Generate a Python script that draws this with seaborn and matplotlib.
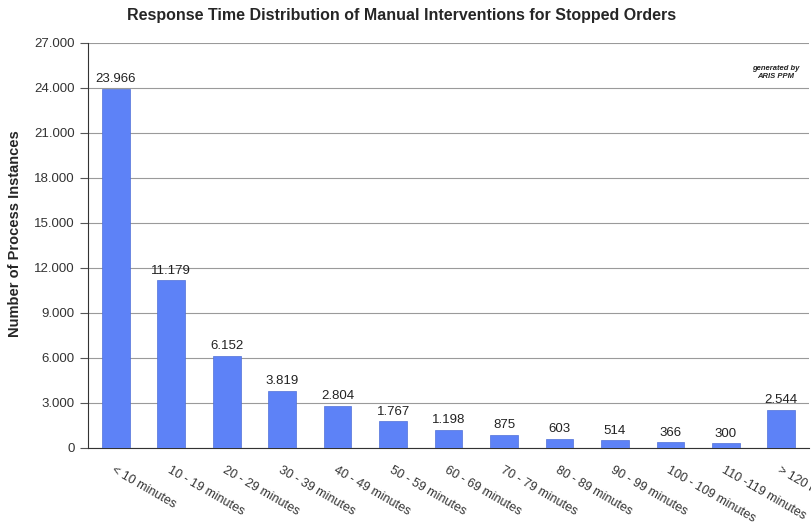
import matplotlib
matplotlib.use("Agg")
import matplotlib.pyplot as plt
import pandas as pd
import seaborn as sns
from matplotlib.ticker import FuncFormatter, MultipleLocator

# Data
categories = ["< 10 minutes", "10 - 19 minutes", "20 - 29 minutes", "30 - 39 minutes",
              "40 - 49 minutes", "50 - 59 minutes", "60 - 69 minutes", "70 - 79 minutes",
              "80 - 89 minutes", "90 - 99 minutes", "100 - 109 minutes", "110 -119 minutes",
              "> 120 minutes"]
instances = [23966, 11179, 6152, 3819, 2804, 1767, 1198, 875, 603, 514, 366, 300, 2544]


def dotted(v, _pos=None):
    """Format numbers with a dot as thousands separator."""
    return f"{int(v):,}".replace(",", ".")


sns.set_style("white")
plt.rcParams['font.family'] = ['Liberation Sans', 'DejaVu Sans']

df = pd.DataFrame({"range": categories, "count": instances})

fig = plt.figure(figsize=(8.12, 5.25), dpi=100)
ax = fig.add_axes([0.1084, 0.1467, 0.888, 0.7714])

sns.barplot(data=df, x="range", y="count", color="#5d82f7", width=0.5,
            edgecolor="#5070d8", linewidth=0.5, saturation=1, ax=ax, zorder=3)

# value labels above bars
for i, v in enumerate(instances):
    ax.text(i, v + 250, dotted(v), ha="center", va="bottom", fontsize=9.5, color="#222222")

ax.set_ylim(0, 27000)
ax.set_xlim(-0.5, 12.5)
ax.yaxis.set_major_locator(MultipleLocator(3000))
ax.yaxis.set_major_formatter(FuncFormatter(dotted))
ax.yaxis.grid(True, color="#9a9a9a", linewidth=0.8, zorder=0)
ax.set_axisbelow(True)

for side in ["top", "right"]:
    ax.spines[side].set_visible(False)
ax.spines["left"].set_color("#333333")
ax.spines["bottom"].set_color("#333333")

ax.tick_params(axis="y", left=True, length=6, color="#555555", labelsize=9.5, labelcolor="#333333")
ax.tick_params(axis="x", bottom=False, labelsize=9, labelcolor="#333333", pad=8)
plt.setp(ax.get_xticklabels(), rotation=-30, ha="left", rotation_mode="anchor")

ax.set_xlabel("")
ax.set_ylabel("Number of Process Instances", fontsize=10.5, fontweight="bold", labelpad=8)
ax.yaxis.set_label_coords(-0.092, 0.53)
fig.suptitle("Response Time Distribution of Manual Interventions for Stopped Orders",
             fontsize=11.5, fontweight="bold", x=0.494, y=0.985)

# small "generated by" mark in the upper right
fig.text(0.955, 0.862, "generated by\nARIS PPM", fontsize=5.5, fontweight="bold",
         ha="center", va="center", style="italic", color="#222222")

fig.savefig("out.png", dpi=100)
